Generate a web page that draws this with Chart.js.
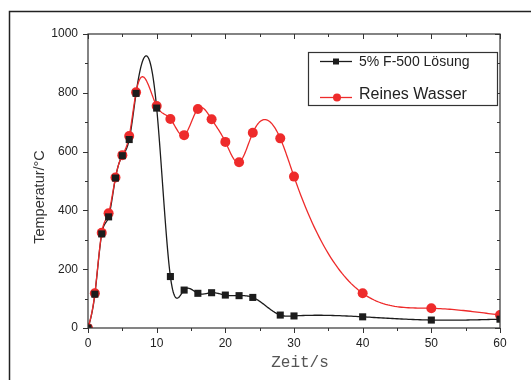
<!DOCTYPE html>
<html>
<head>
<meta charset="utf-8">
<script src="https://cdn.jsdelivr.net/npm/chart.js@4/dist/chart.umd.min.js"></script>
<style>
  html, body { margin: 0; padding: 0; background: #fff; }
  canvas { display: block; }
</style>
</head>
<body>
<canvas id="chart" width="531" height="380"></canvas>
<script>
'use strict';
// values
const timeF500 = [0, 1, 2, 3, 4, 5, 6, 7, 10, 12, 14, 16, 18, 20, 22, 24, 28, 30, 40, 50, 60];
const tempF500 = [0, 115, 320, 378, 510, 586, 641, 798, 748, 175, 129, 118, 120, 112, 110, 104, 44, 41, 38, 27, 30];
const timeWater = [0, 1, 2, 3, 4, 5, 6, 7, 10, 12, 14, 16, 18, 20, 22, 24, 28, 30, 40, 50, 60];
const tempWater = [0, 118, 324, 390, 512, 588, 653, 802, 755, 711, 656, 745, 710, 633, 564, 664, 645, 515, 118, 67, 44];
const timeRef = [0, 60];
const tempRef = [0, 32];
const xTicks = [0, 10, 20, 30, 40, 50, 60];
const yTicks = [0, 200, 400, 600, 800, 1000];
const seriesNames = ['5% F-500 Lösung', 'Reines Wasser'];
const xTitle = 'Zeit/s';
const yTitle = 'Temperatur/°C';

const BLACK = '#1c1c1c';
const RED = '#ee2b2b';
const BLUE = '#2a4fa3';
const AXIS = '#333';

function toPoints(xs, ys) {
  return xs.map((x, i) => ({ x: x, y: ys[i] }));
}

// second derivatives of a natural cubic spline
function splineSecond(xs, ys) {
  const n = xs.length;
  const m = new Array(n).fill(0);
  if (n < 3) return m;
  const cp = new Array(n).fill(0);
  const dp = new Array(n).fill(0);
  for (let i = 1; i < n - 1; i++) {
    const h0 = xs[i] - xs[i - 1];
    const h1 = xs[i + 1] - xs[i];
    const a = h0, b = 2 * (h0 + h1), c = h1;
    const r = 6 * ((ys[i + 1] - ys[i]) / h1 - (ys[i] - ys[i - 1]) / h0);
    const den = b - a * cp[i - 1];
    cp[i] = c / den;
    dp[i] = (r - a * dp[i - 1]) / den;
  }
  for (let i = n - 2; i >= 1; i--) {
    m[i] = dp[i] - cp[i] * m[i + 1];
  }
  return m;
}

const splinePlugin = {
  id: 'splineLines',
  beforeDatasetsDraw(chart) {
    const { ctx, chartArea, scales } = chart;
    ctx.save();
    ctx.beginPath();
    ctx.rect(chartArea.left, chartArea.top, chartArea.right - chartArea.left, chartArea.bottom - chartArea.top);
    ctx.clip();
    chart.data.datasets.forEach((ds, i) => {
      if (!ds.spline || !chart.isDatasetVisible(i)) return;
      const xs = ds.data.map(p => p.x);
      const ys = ds.data.map(p => p.y);
      const m = splineSecond(xs, ys);
      ctx.beginPath();
      for (let k = 0; k < xs.length - 1; k++) {
        const h = xs[k + 1] - xs[k];
        const steps = 30;
        for (let s = (k === 0 ? 0 : 1); s <= steps; s++) {
          const xv = xs[k] + h * s / steps;
          const a = xs[k + 1] - xv, b = xv - xs[k];
          const yv = m[k] * a * a * a / (6 * h) + m[k + 1] * b * b * b / (6 * h) +
            (ys[k] / h - m[k] * h / 6) * a + (ys[k + 1] / h - m[k + 1] * h / 6) * b;
          const px = scales.x.getPixelForValue(xv);
          const py = scales.y.getPixelForValue(yv);
          if (k === 0 && s === 0) ctx.moveTo(px, py); else ctx.lineTo(px, py);
        }
      }
      ctx.strokeStyle = ds.splineColor;
      ctx.lineWidth = 1.3;
      ctx.lineJoin = 'round';
      ctx.stroke();
    });
    ctx.restore();
  },
};

const framePlugin = {
  id: 'frameAndLegend',
  afterDraw(chart) {
    const { ctx, chartArea: ca, scales } = chart;
    ctx.save();
    // outer picture frame
    ctx.strokeStyle = '#222';
    ctx.lineWidth = 1.5;
    ctx.beginPath();
    ctx.moveTo(9.5, 380);
    ctx.lineTo(9.5, 11.5);
    ctx.lineTo(531, 11.5);
    ctx.stroke();

    // box round plot area
    ctx.strokeStyle = AXIS;
    ctx.lineWidth = 1.2;
    ctx.strokeRect(ca.left, ca.top, ca.right - ca.left, ca.bottom - ca.top);

    // major + minor ticks
    ctx.lineWidth = 1;
    ctx.beginPath();
    for (let v = 0; v <= 60; v += 5) {
      const px = Math.round(scales.x.getPixelForValue(v)) + 0.5;
      const len = v % 10 === 0 ? 5 : 3;
      ctx.moveTo(px, ca.bottom); ctx.lineTo(px, ca.bottom + len);
      ctx.moveTo(px, ca.top); ctx.lineTo(px, ca.top + len);
    }
    for (let v = 0; v <= 1000; v += 100) {
      const py = Math.round(scales.y.getPixelForValue(v)) + 0.5;
      const len = v % 200 === 0 ? 5 : 3;
      ctx.moveTo(ca.left, py); ctx.lineTo(ca.left - len, py);
      ctx.moveTo(ca.right, py); ctx.lineTo(ca.right - len, py);
    }
    ctx.stroke();

    // axis titles
    ctx.textAlign = 'center';
    ctx.textBaseline = 'middle';
    ctx.font = '16px "Liberation Mono", monospace';
    ctx.fillStyle = '#555';
    ctx.fillText(xTitle, 300, 363);
    ctx.save();
    ctx.translate(40, 197);
    ctx.rotate(-Math.PI / 2);
    ctx.font = '14.5px "Liberation Sans", Arial, sans-serif';
    ctx.fillStyle = '#333';
    ctx.fillText(yTitle, 0, 0);
    ctx.restore();

    // legend
    ctx.strokeStyle = '#333';
    ctx.lineWidth = 1.2;
    ctx.fillStyle = '#fff';
    ctx.fillRect(308.5, 52.5, 189, 53);
    ctx.strokeRect(308.5, 52.5, 189, 53);
    ctx.lineWidth = 1.3;
    ctx.strokeStyle = BLACK;
    ctx.beginPath(); ctx.moveTo(320, 61.5); ctx.lineTo(352, 61.5); ctx.stroke();
    ctx.fillStyle = BLACK;
    ctx.fillRect(333, 58.5, 6, 6);
    ctx.strokeStyle = RED;
    ctx.beginPath(); ctx.moveTo(320, 97.5); ctx.lineTo(352, 97.5); ctx.stroke();
    ctx.fillStyle = RED;
    ctx.beginPath(); ctx.arc(337, 97.5, 4, 0, Math.PI * 2); ctx.fill();
    ctx.fillStyle = '#222';
    ctx.textAlign = 'left';
    ctx.font = '14px "Liberation Sans", Arial, sans-serif';
    ctx.fillText(seriesNames[0], 359, 62);
    ctx.font = '16px "Liberation Sans", Arial, sans-serif';
    ctx.fillText(seriesNames[1], 359, 95);
    ctx.restore();
  },
};

const ctx = document.getElementById('chart').getContext('2d');
const chart = new Chart(ctx, {
  type: 'line',
  data: {
    datasets: [
      {
        label: seriesNames[0],
        data: toPoints(timeF500, tempF500),
        showLine: false,
        spline: true,
        splineColor: BLACK,
        pointStyle: 'rect',
        pointRadius: 5,
        pointBackgroundColor: BLACK,
        pointBorderColor: BLACK,
        pointBorderWidth: 0,
      },
      {
        label: seriesNames[1],
        data: toPoints(timeWater, tempWater),
        showLine: false,
        spline: true,
        splineColor: RED,
        pointStyle: 'circle',
        pointRadius: 5,
        pointBackgroundColor: RED,
        pointBorderColor: RED,
        pointBorderWidth: 0,
      },
      {
        label: 'ref',
        data: toPoints(timeRef, tempRef),
        showLine: false,
        pointStyle: 'triangle',
        pointRadius: 4,
        pointBackgroundColor: BLUE,
        pointBorderColor: BLUE,
        pointBorderWidth: 0,
      },
    ],
  },
  options: {
    responsive: false,
    animation: false,
    layout: { padding: { left: 0, top: 34, right: 31, bottom: 0 } },
    plugins: {
      legend: { display: false },
      tooltip: { enabled: false },
    },
    scales: {
      x: {
        type: 'linear',
        min: 0,
        max: 60,
        afterBuildTicks: scale => { scale.ticks = xTicks.map(v => ({ value: v })); },
        afterFit: scale => { scale.height = 52; },
        grid: { display: false, drawTicks: false },
        border: { display: false },
        ticks: {
          autoSkip: false,
          maxRotation: 0,
          padding: 8,
          color: '#222',
          callback: v => String(v),
          font: { family: '"Liberation Sans", Arial, sans-serif', size: 12 },
        },
      },
      y: {
        type: 'linear',
        min: 0,
        max: 1000,
        afterBuildTicks: scale => { scale.ticks = yTicks.map(v => ({ value: v })); },
        afterFit: scale => { scale.width = 88; },
        grid: { display: false, drawTicks: false },
        border: { display: false },
        ticks: {
          padding: 10,
          color: '#222',
          callback: v => String(v),
          font: { family: '"Liberation Sans", Arial, sans-serif', size: 12 },
        },
      },
    },
  },
  plugins: [splinePlugin, framePlugin],
});
</script>
</body>
</html>
